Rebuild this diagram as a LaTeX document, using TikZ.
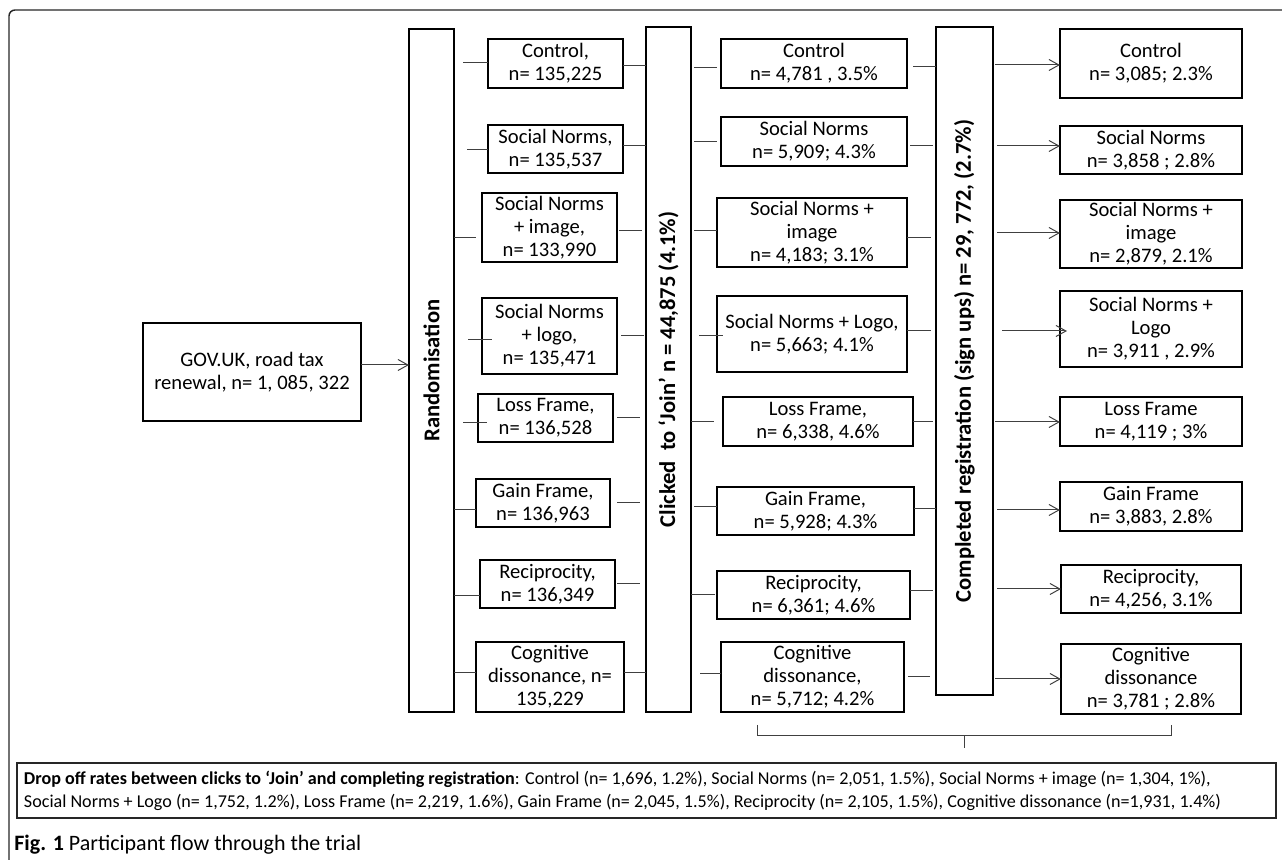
\documentclass[tikz,border=0pt]{standalone}
\usepackage{fontspec}
\setmainfont{Carlito}
\usetikzlibrary{arrows.meta}
\tikzset{
  box/.style={draw=black, line width=0.7pt, inner sep=0pt, outer sep=0pt, align=center, font=\fontsize{10.3}{11.5}\selectfont},
  vlabel/.style={rotate=90, font=\fontsize{11.3}{13}\selectfont\bfseries, inner sep=0pt},
  conn/.style={draw=black!75, line width=0.5pt},
  arr/.style={conn, -{Straight Barb[length=5pt,width=5.5pt]}},
  frame/.style={draw=black!85, line width=0.7pt},
}
% \pbox[style]{name}{x1}{y1}{x2}{y2}{text}
\newcommand\pbox[7][box]{\node[#1, minimum width={(#5-#3)*0.5pt}, minimum height={(#6-#4)*0.5pt}] (#2) at ({(#3+#5)/2},{(#4+#6)/2}) {#7};}
% \lnk{shorten start px}{shorten end px}{from}{to}{y}
\newcommand\lnk[5]{\draw[conn, shorten <={#1*0.5pt}, shorten >={#2*0.5pt}] (#3.east |- 0,#5) -- (#4.west |- 0,#5);}
\newcommand\alnk[5]{\draw[arr, shorten <={#1*0.5pt}, shorten >={#2*0.5pt}] (#3.east |- 0,#5) -- (#4.west |- 0,#5);}
\begin{document}
\begin{tikzpicture}[x=0.5pt, y=-0.5pt]
\useasboundingbox (0,0) rectangle (1282,860);
% outer frame (top and left only)
\draw[frame, rounded corners=3pt] (9,860) -- (9,10) -- (1282,10);

% source
\pbox{gov}{143}{323}{361}{421}{GOV.UK, road tax\\renewal, n= 1, 085, 322}

% vertical stage boxes
\pbox{rand}{409}{29}{454}{712}{}
\node[vlabel] (randlbl) at (rand.center) {Randomisation};
\pbox{click}{646}{27}{691}{712}{}
\node[vlabel] (clicklbl) at (click.center) {Clicked~ to ‘Join’ n = 44,875 (4.1\%)};
\pbox{comp}{936}{27}{993}{695}{}
\node[vlabel] (complbl) at (comp.center) {Completed registration (sign ups) n= 29, 772, (2.7\%)};

% column 2: randomised arms
\pbox{c1}{488}{39}{623}{88}{Control,\\n= 135,225}
\pbox{c2}{488}{125}{623}{173}{Social Norms,\\n= 135,537}
\pbox{c3}{482}{193}{617}{262}{Social Norms\\+ image,\\n= 133,990}
\pbox{c4}{482}{298}{617}{374}{Social Norms\\+ logo,\\n= 135,471}
\pbox{c5}{478}{394}{613}{442}{Loss Frame,\\n= 136,528}
\pbox{c6}{476}{479}{610}{527}{Gain Frame,\\n= 136,963}
\pbox{c7}{480}{560}{615}{608}{Reciprocity,\\n= 136,349}
\pbox{c8}{476}{642}{624}{712}{Cognitive\\dissonance, n=\\135,229}

% column 4: clicks
\pbox{d1}{721}{39}{907}{88}{Control\\n= 4,781 , 3.5\%}
\pbox{d2}{721}{117}{907}{166}{Social Norms\\n= 5,909; 4.3\%}
\pbox{d3}{717}{198}{907}{267}{Social Norms +\\image\\n= 4,183; 3.1\%}
\pbox{d4}{717}{296}{907}{372}{Social Norms + Logo,\\n= 5,663; 4.1\%}
\pbox{d5}{723}{397}{913}{446}{Loss Frame,\\n= 6,338, 4.6\%}
\pbox{d6}{717}{487}{914}{535}{Gain Frame,\\n= 5,928; 4.3\%}
\pbox{d7}{717}{571}{910}{619}{Reciprocity,\\n= 6,361; 4.6\%}
\pbox{d8}{721}{642}{904}{712}{Cognitive\\dissonance,\\n= 5,712; 4.2\%}

% column 5: completed
\pbox{e1}{1060}{29}{1242}{98}{Control\\n= 3,085; 2.3\%}
\pbox{e2}{1060}{126}{1242}{174}{Social Norms\\n= 3,858 ; 2.8\%}
\pbox{e3}{1060}{200}{1242}{268}{Social Norms +\\image\\n= 2,879, 2.1\%}
\pbox{e4}{1060}{291}{1242}{367}{Social Norms +\\Logo\\n= 3,911 , 2.9\%}
\pbox{e5}{1060}{397}{1242}{446}{Loss Frame\\n= 4,119 ; 3\%}
\pbox{e6}{1060}{482}{1242}{531}{Gain Frame\\n= 3,883, 2.8\%}
\pbox{e7}{1061}{565}{1241}{613}{Reciprocity,\\n= 4,256, 3.1\%}
\pbox{e8}{1061}{644}{1241}{714}{Cognitive\\dissonance\\n= 3,781 ; 2.8\%}

% connectors
\alnk{0}{0}{gov}{rand}{365}

\lnk{9}{0}{rand}{c1}{63}
\lnk{13}{0}{rand}{c2}{150}
\lnk{0}{6}{rand}{c3}{238}
\lnk{14}{-10}{rand}{c4}{340}
\lnk{9}{-9}{rand}{c5}{423}
\lnk{0}{0}{rand}{c6}{510}
\lnk{0}{0}{rand}{c7}{596}
\lnk{0}{0}{rand}{c8}{673}

\lnk{0}{0}{c1}{click}{66}
\lnk{0}{0}{c2}{click}{146}
\lnk{2}{4}{c3}{click}{231}
\lnk{4}{2}{c4}{click}{336}
\lnk{4}{6}{c5}{click}{418}
\lnk{7}{6}{c6}{click}{503}
\lnk{2}{6}{c7}{click}{584}
\lnk{0}{0}{c8}{click}{673}

\lnk{3}{4}{click}{d1}{68}
\lnk{3}{4}{click}{d2}{142}
\lnk{3}{0}{click}{d3}{231}
\lnk{8}{-6}{click}{d4}{336}
\lnk{0}{9}{click}{d5}{422}
\lnk{3}{0}{click}{d6}{507}
\lnk{0}{2}{click}{d7}{595}
\lnk{9}{0}{click}{d8}{674}

\lnk{6}{0}{d1}{comp}{67}
\lnk{3}{3}{d2}{comp}{146}
\lnk{0}{5}{d3}{comp}{238}
\lnk{0}{5}{d4}{comp}{331}
\lnk{0}{3}{d5}{comp}{422}
\lnk{0}{0}{d6}{comp}{509}
\lnk{0}{3}{d7}{comp}{591}
\lnk{4}{6}{d8}{comp}{677}

\alnk{2}{0}{comp}{e1}{65}
\alnk{4}{0}{comp}{e2}{146}
\alnk{4}{0}{comp}{e3}{233}
\alnk{9}{-7}{comp}{e4}{331}
\alnk{2}{0}{comp}{e5}{422}
\alnk{4}{0}{comp}{e6}{510}
\alnk{4}{0}{comp}{e7}{589}
\alnk{2}{0}{comp}{e8}{679}

% bracket
\coordinate (bl) at (757,725);
\coordinate (br) at (1171,725);
\coordinate (bm) at (964,736);
\coordinate (bt) at (964,748);
\draw[conn] (bl) -- (bl |- bm) -- (br |- bm) -- (br);
\draw[conn] (bm) -- (bt);

% drop-off box
\node[draw=black!85, line width=0.6pt, inner sep=0pt, outer sep=0pt,
      minimum width={(1276-17)*0.5pt}, minimum height={(818-763)*0.5pt},
      text width={(1276-17-14)*0.5pt}, align=flush left,
      font=\fontsize{9.05}{11.5}\selectfont] (drop) at ({(17+1276)/2},{(763+818)/2})
  {\textbf{Drop off rates between clicks to ‘Join’ and completing registration}: Control (n= 1,696, 1.2\%), Social Norms (n= 2,051, 1.5\%), Social Norms + image (n= 1,304, 1\%),\\
   Social Norms + Logo (n= 1,752, 1.2\%), Loss Frame (n= 2,219, 1.6\%), Gain Frame (n= 2,045, 1.5\%), Reciprocity (n= 2,105, 1.5\%), Cognitive dissonance (n=1,931, 1.4\%)};

% figure caption
\node[anchor=west, inner sep=0pt, font=\fontsize{11}{12}\selectfont] (fig) at (14,845)
  {\textbf{Fig. 1} Participant flow through the trial};
\end{tikzpicture}
\end{document}
